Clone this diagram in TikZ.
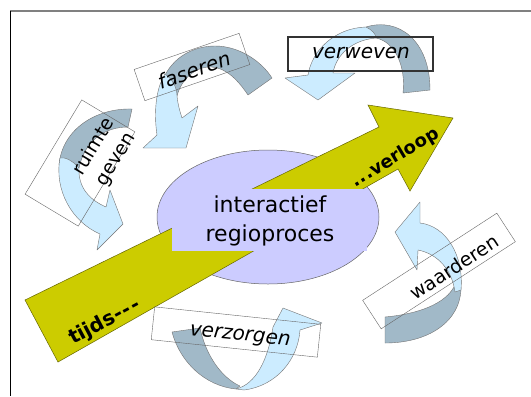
\documentclass[tikz,border=0pt]{standalone}
\usepackage{fontspec}
\setmainfont{DejaVu Sans}
\definecolor{yel}{HTML}{CCCC00}
\definecolor{lav}{HTML}{CCCCFF}
\definecolor{lblue}{HTML}{CCECFF}
\definecolor{gblue}{HTML}{A1B9C8}
\definecolor{olive}{HTML}{666600}
\begin{document}
\begin{tikzpicture}[x=1bp,y=-1bp,
  graypart/.style={fill=gblue,draw=black!55,line width=0.4bp,line join=round},
  bluepart/.style={fill=lblue,draw=black!55,line width=0.4bp,line join=round},
  yelarrow/.style={fill=yel,draw=olive,line width=0.5bp,line join=miter},
  tbox/.style={draw=black!60,line width=0.4bp,inner sep=0pt},
  lbl/.style={inner sep=0pt,font=\fontsize{20bp}{24bp}\selectfont},
  ilbl/.style={lbl,font=\fontsize{20bp}{24bp}\selectfont\itshape},
  blbl/.style={inner sep=0pt,font=\fontsize{20bp}{24bp}\selectfont\bfseries}]
\useasboundingbox (0,0) rectangle (531,396);
\fill[white] (0,0) rectangle (531,396);
% frame
\draw[black!50,line width=1.6bp] (10,11) -- (531,11);
\draw[black,line width=1bp] (10.5,11) -- (10.5,396);

% faseren arrow
\filldraw[graypart] (160,88) .. controls (168,58) and (193,46) .. (215,46) .. controls (240,46) and (262,62) .. (272,78) -- (248,95) .. controls (238,80) and (226,68) .. (212,67) .. controls (195,66) and (181,80) .. (177,96) -- cycle;
\filldraw[bluepart] (143,148) -- (157,135) .. controls (154,115) and (155,90) .. (165,74) .. controls (172,79) and (177,87) .. (177,96) .. controls (178,105) and (180,112) .. (182,118) -- (198,106) -- (186,148) -- cycle;

% verweven arrow
\filldraw[graypart] (366,27) .. controls (398,17) and (430,40) .. (430,90) -- (403,93) .. controls (406,66) and (395,42) .. (376,38) -- cycle;
\filldraw[bluepart] (285,78) -- (308,75) .. controls (312,50) and (335,28) .. (366,27) .. controls (372,30) and (376,34) .. (376,38) .. controls (352,40) and (336,55) .. (333,73) -- (355,73) -- (318,100) -- cycle;

% ruimte geven arrow
\filldraw[graypart] (59,165) .. controls (62,130) and (95,108) .. (132,109) -- (128,127) .. controls (105,127) and (85,140) .. (79,168) -- cycle;
\filldraw[bluepart] (60,158) .. controls (54,190) and (72,222) .. (100,234) -- (97,250) -- (123,224) -- (110,190) -- (106,207) .. controls (90,200) and (78,188) .. (79,168) .. controls (72,160) and (65,157) .. (60,158) -- cycle;

% waarderen arrow
\filldraw[graypart] (385,317) .. controls (418,314) and (446,304) .. (455,285) -- (461,287) .. controls (461,322) and (428,343) .. (385,343) -- cycle;
\filldraw[bluepart] (420,202) -- (395,232) -- (417,270) -- (418,250) .. controls (438,254) and (452,270) .. (455,292) -- (461,290) .. controls (464,255) and (446,226) .. (420,223) -- cycle;

% verzorgen arrow
\filldraw[graypart] (172,332) -- (200,328) .. controls (206,356) and (222,378) .. (240,386) -- (236,389) .. controls (205,386) and (180,362) .. (172,332) -- cycle;
\filldraw[bluepart] (236,389) .. controls (256,384) and (268,360) .. (273,327) -- (283,308) -- (322,323) -- (300,330) .. controls (298,360) and (276,386) .. (244,390) -- cycle;

% central ellipse
\filldraw[fill=lav,draw=black!60,line width=0.5bp] (268,217) ellipse [x radius=111,y radius=67];
% time arrow
\filldraw[yelarrow] (25,300) -- (379,127) -- (368,105) -- (453,118) -- (410,191) -- (398,169) -- (58,362) -- cycle;
\fill[lav] (172,189) rectangle (367,251);
\node[inner sep=0pt,align=center,font=\fontsize{22bp}{29bp}\selectfont] (center) at (270,221) {interactief\\regioproces};
\node[blbl,rotate=28] (tijds) at (105,322) {tijds-\kern1.5bp-\kern1.5bp-};
\node[blbl,font=\fontsize{18bp}{22bp}\selectfont\bfseries,rotate=31] (verloop) at (395,158) {.\kern1bp.\kern1bp.verloop};

% label boxes
\node[tbox,minimum width=111bp,minimum height=33bp,rotate=19] (fbox) at (192,67) {};
\node[ilbl,rotate=19] (faseren) at (194,70) {faseren};
\draw[black!80,line width=1.2bp] (288,37) rectangle (433,71);
\node[ilbl] (verweven) at (361,53) {verweven};
\node[tbox,minimum width=110bp,minimum height=62bp,rotate=59] (rbox) at (80,163) {};
\node[lbl,font=\fontsize{19bp}{25bp}\selectfont,align=center,rotate=59] (ruimte) at (105,153) {ruimte\\geven};
\node[tbox,minimum width=160bp,minimum height=34bp,rotate=33] (wbox) at (439,271) {};
\node[lbl,font=\fontsize{19bp}{24bp}\selectfont,rotate=33] (waarderen) at (454,267) {waarderen};
\node[tbox,minimum width=167bp,minimum height=33bp,rotate=-6] (zbox) at (236,332) {};
\node[ilbl,rotate=-6] (verzorgen) at (240,337) {verzorgen};
\end{tikzpicture}
\end{document}
